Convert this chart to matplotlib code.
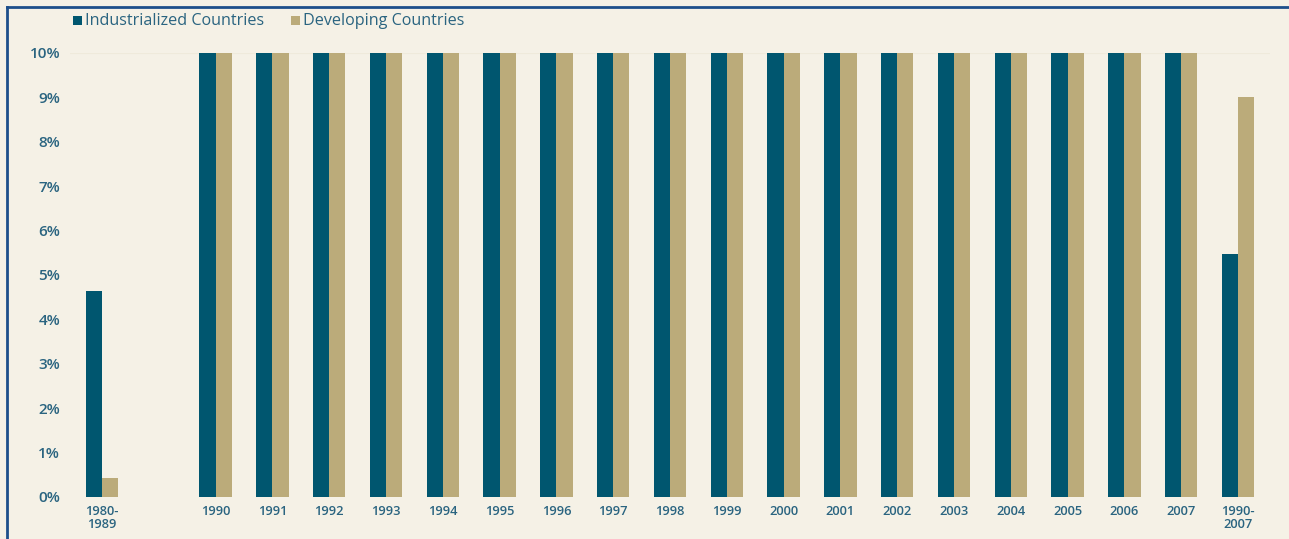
import matplotlib
matplotlib.use("Agg")
import matplotlib.pyplot as plt
from matplotlib.patches import Rectangle
from matplotlib.lines import Line2D

categories = ["1980-\n1989", "1990", "1991", "1992", "1993", "1994", "1995", "1996",
              "1997", "1998", "1999", "2000", "2001", "2002", "2003", "2004",
              "2005", "2006", "2007", "1990-\n2007"]
positions = [0] + list(range(2, 21))
industrialized = [4.65] + [10.0] * 18 + [5.48]
developing = [0.43] + [10.0] * 18 + [9.0]
y_ticks = [0, 1, 2, 3, 4, 5, 6, 7, 8, 9, 10]
y_labels = [f"{v}%" for v in y_ticks]

c_ind = "#00566F"
c_dev = "#BBAB7A"
c_bg = "#F5F1E6"
c_text = "#2A6480"
c_frame = "#1D4F8A"

plt.rcParams["font.family"] = ["Open Sans", "DejaVu Sans"]

fig = plt.figure(figsize=(12.89, 5.39), dpi=100, facecolor=c_bg)
ax = fig.add_axes([70 / 1289, 42 / 539, 1200 / 1289, 444 / 539], facecolor=c_bg)

w = 0.285
ax.bar([x - w / 2 for x in positions], industrialized, width=w, color=c_ind, linewidth=0)
ax.bar([x + w / 2 for x in positions], developing, width=w, color=c_dev, linewidth=0)

ax.set_xlim((68 - 100) / 56.8, (1268 - 100) / 56.8)
ax.set_ylim(0, 10)
ax.set_yticks(y_ticks)
ax.set_yticklabels(y_labels)
ax.set_xticks(positions)
ax.set_xticklabels(categories, linespacing=0.95)
ax.tick_params(axis="y", length=0, pad=7, labelsize=11, labelcolor=c_text)
ax.tick_params(axis="x", length=0, pad=6, labelsize=9.3, labelcolor=c_text)
for lab in ax.get_yticklabels():
    lab.set_fontweight("semibold")
for lab in ax.get_xticklabels():
    lab.set_fontweight("semibold")
    lab.set_verticalalignment("top")
for s in ax.spines.values():
    s.set_visible(False)
ax.axhline(10, color="#EFEADB", linewidth=0.8, zorder=0)

# legend drawn in figure pixels
def px(x, y):
    return x / 1289, 1 - y / 539

for sx, color, label in [(73, c_ind, "Industrialized Countries"),
                         (291, c_dev, "Developing Countries")]:
    x0, y0 = px(sx, 25)
    fig.patches.append(Rectangle((x0, y0), 9 / 1289, 9 / 539, transform=fig.transFigure,
                                 facecolor=color, edgecolor="none"))
    tx, ty = px(sx + 12, 21)
    fig.text(tx, ty, label, fontsize=11.6, color=c_text, va="center", ha="left")

# frame lines along top and left
fx0, fy0 = px(7, 7)
fig.lines.append(Line2D([fx0, 1], [fy0, fy0], transform=fig.transFigure,
                        color=c_frame, linewidth=2))
fig.lines.append(Line2D([fx0, fx0], [fy0, 0], transform=fig.transFigure,
                        color=c_frame, linewidth=2))

fig.savefig("out.png", dpi=100, facecolor=c_bg)
